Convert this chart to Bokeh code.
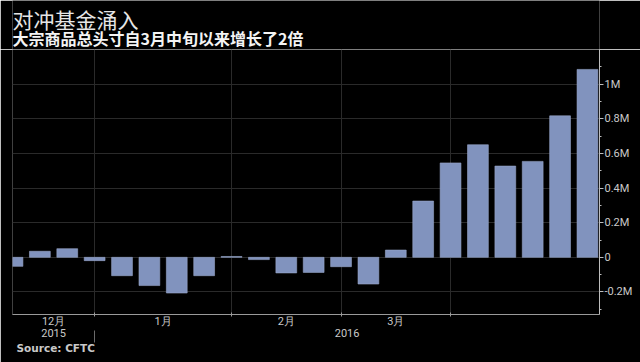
from bokeh.plotting import figure
from bokeh.layouts import column
from bokeh.models import (FixedTicker, LinearAxis, Label, Range1d, Title, CustomJSTickFormatter)
from bokeh.embed import file_html
from bokeh.resources import INLINE

# ---- data ----
weeks = list(range(22))
net_flow_m = [-0.052, 0.035, 0.050, -0.019, -0.106, -0.163, -0.206, -0.106,
              0.005, -0.013, -0.090, -0.087, -0.054, -0.154, 0.042, 0.325,
              0.545, 0.650, 0.527, 0.554, 0.817, 1.085]
month_bounds = [3, 8, 12, 16]
month_mid = [1.5, 5.5, 10, 14]
month_labels = ["12月", "1月", "2月", "3月"]
year_mid = [1.5, 12.22]
year_labels = ["2015", "2016"]
year_bounds = [3]
y_ticks = [-0.2, 0, 0.2, 0.4, 0.6, 0.8, 1.0, 1.2]
y_minor = [-0.3, -0.1, 0.1, 0.3, 0.5, 0.7, 0.9, 1.1]

title_text = "对冲基金涌入"
subtitle_text = "大宗商品总头寸自3月中旬以来增长了2倍"
source_text = "Source: CFTC"

BG = "#000000"
BAR = "#8193be"
GRID = "#2a2a2a"
TXT = "#c9c9c9"
CJK = "Noto Sans CJK SC"
NUM = "Roboto"

# ---- header strip (title + subtitle) ----
hp = figure(width=640, height=49, output_backend="svg", toolbar_location=None,
            x_range=Range1d(0, 640), y_range=Range1d(0, 49),
            x_axis_location=None, y_axis_location=None,
            background_fill_color=BG, border_fill_color=BG,
            min_border=0, min_border_left=0, min_border_right=0,
            min_border_top=0, min_border_bottom=0)
hp.outline_line_color = None
hp.grid.visible = False
hp.add_layout(Label(x=0, y=30.5, x_units="screen", y_units="screen",
                    text=title_text, text_font=CJK, text_font_size="21px",
                    text_color="#e6e6e6", text_baseline="middle", text_align="left"))
hp.add_layout(Label(x=0, y=11.5, x_units="screen", y_units="screen",
                    text=subtitle_text, text_font=CJK, text_font_size="16px",
                    text_font_style="bold", text_color="#f4f4f4",
                    text_baseline="middle", text_align="left"))

# ---- main chart ----
p = figure(width=640, height=313, output_backend="svg", toolbar_location=None,
           x_range=Range1d(0, 21.44), y_range=Range1d(-0.33, 1.2),
           y_axis_location="right",
           background_fill_color=BG, border_fill_color=BG,
           min_border_left=12, min_border_right=41, min_border_top=0, min_border_bottom=48)
p.outline_line_color = None

p.vbar(x=weeks, top=net_flow_m, bottom=0, width=0.76,
       fill_color=BAR, line_color="#98a6c9", line_width=0.6)

p.xgrid.ticker = FixedTicker(ticks=month_bounds)
p.ygrid.ticker = FixedTicker(ticks=y_ticks)
p.xgrid.grid_line_color = GRID
p.ygrid.grid_line_color = GRID

ya = p.yaxis[0]
ya.ticker = FixedTicker(ticks=y_ticks, minor_ticks=y_minor)
ya.formatter = CustomJSTickFormatter(code="""
if (tick > 1.1) return '';
if (Math.abs(tick) < 1e-9) return '0';
return (Math.round(tick*10)/10) + 'M';
""")
ya.axis_line_color = "#bdbdbd"
ya.major_tick_line_color = "#bdbdbd"
ya.minor_tick_line_color = "#bdbdbd"
ya.major_tick_out = 4
ya.major_tick_in = 0
ya.minor_tick_out = 2
ya.minor_tick_in = 0
ya.major_label_standoff = 1
ya.major_label_text_color = TXT
ya.major_label_text_font = NUM
ya.major_label_text_font_size = "11px"

xa = p.xaxis[0]
xa.ticker = FixedTicker(ticks=month_mid, minor_ticks=month_bounds)
xa.major_label_overrides = dict(zip(month_mid, month_labels))
xa.axis_line_color = "#9a9a9a"
xa.major_tick_line_color = None
xa.major_tick_out = 0
xa.major_tick_in = 0
xa.minor_tick_line_color = "#9a9a9a"
xa.minor_tick_in = 2
xa.minor_tick_out = 2
xa.major_label_standoff = -2
xa.major_label_text_color = TXT
xa.major_label_text_font = NUM
xa.major_label_text_font_size = "11px"

yr = LinearAxis(ticker=FixedTicker(ticks=year_mid, minor_ticks=year_bounds),
                major_label_overrides=dict(zip(year_mid, year_labels)))
yr.axis_line_color = None
yr.major_tick_line_color = None
yr.major_tick_out = 0
yr.major_tick_in = 0
yr.minor_tick_line_color = "#6a6a6a"
yr.minor_tick_in = 0
yr.minor_tick_out = 12
yr.major_label_standoff = -14
yr.major_label_text_color = TXT
yr.major_label_text_font = NUM
yr.major_label_text_font_size = "11px"
p.add_layout(yr, "below")

src = Title(text=source_text, align="left", text_font_size="10.5px",
            text_font_style="bold", text_color=TXT, text_font="DejaVu Sans",
            offset=4, standoff=0)
p.add_layout(src, "below")

layout = column(hp, p, spacing=0)
open("out.html", "w").write(file_html(layout, INLINE))
